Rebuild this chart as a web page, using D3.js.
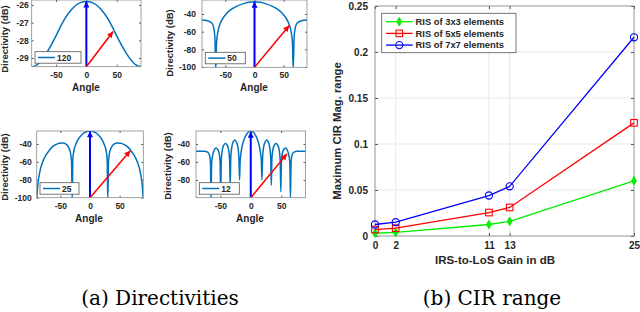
<!DOCTYPE html>
<html>
<head>
<meta charset="utf-8">
<script src="https://cdn.jsdelivr.net/npm/d3@7"></script>
<style>
body { margin: 0; background: #fff; }
svg { display: block; font-family: "Liberation Sans", Arial, sans-serif; }
.tick text { font-weight: bold; fill: #262626; }
.tick line { stroke: #555; }
</style>
</head>
<body>
<svg id="fig" width="640" height="312"></svg>
<script>
// directivity curves, angle in degrees and directivity in dB
var ang120 = [-90, -80, -70, -60, -50, -40, -30, -20, -10, 0, 10, 20, 30, 40, 50, 60, 70, 80, 90];
var dir120 = [-29.5, -29.35, -28.95, -28.4, -27.75, -27.05, -26.5, -26.1, -25.87, -25.8,
  -25.87, -26.1, -26.5, -27.05, -27.75, -28.4, -28.95, -29.35, -29.5];

var ang50 = [-90, -82, -76, -72, -69.5, -67.8, -66.4, -65, -63, -61, -58, -54, -48, -40, -30, -20, -10, 0,
  10, 20, 30, 40, 48, 54, 58, 61, 63, 65, 66.4, 67.8, 69.5, 72, 76, 82, 90];
var dir50 = [-46.8, -47.4, -48.8, -51.5, -57, -68, -102, -72, -61, -55, -49.5, -44.5, -39.5, -34.8, -31, -28.5, -26.8, -26,
  -26.8, -28.5, -31, -34.8, -39.5, -44.5, -49.5, -55, -61, -72, -102, -68, -57, -51.5, -48.8, -47.4, -46.8];

var ang25 = [-90, -88, -85, -80, -74, -68, -64, -58, -52, -46, -40, -36, -33, -31.2, -30, -29, -27, -24, -20, -15, -10, -5, 0,
  5, 10, 15, 20, 24, 27, 29, 30, 31.2, 33, 36, 40, 46, 52, 58, 64, 68, 74, 80, 85, 88, 90];
var dir25 = [-102, -85, -72, -60, -52, -46.5, -43.5, -40.8, -39.2, -39, -40.5, -44, -50, -60, -102, -57, -47, -40.5, -34.8, -30.5, -27.6, -26, -25.5,
  -26, -27.6, -30.5, -34.8, -40.5, -47, -57, -102, -60, -50, -44, -40.5, -39, -39.2, -40.8, -43.5, -46.5, -52, -60, -72, -85, -102];

var ang12 = [-90, -76, -71, -68, -66.3, -65.3, -64.2, -62, -59.5, -57, -54.5, -52, -50.4, -49.4, -48.4, -46.8, -44.2, -41.6, -39, -36.5, -34.8,
  -33.8, -32.8, -31, -28.5, -26, -23.5, -21, -19.5, -18.4, -17.5, -16, -14, -11, -8, -4, 0,
  4, 8, 11, 14, 16, 17.5, 18.4, 19.5, 21, 23.5, 26, 28.5, 31, 32.8, 33.8,
  34.8, 36.5, 39, 41.6, 44.2, 46.8, 48.4, 49.4, 50.4, 52, 54.5, 57, 59.5, 62, 64.2, 65.3, 66.3, 68, 71, 76, 90];
var dir12 = [-48, -48, -49, -52, -60, -100, -60, -50.5, -46, -44.5, -46, -50, -60, -93, -58, -47, -41, -39.6, -41, -46, -57,
  -86, -55, -43, -37, -35.5, -38, -44, -55, -80, -60, -50, -42, -35, -30.5, -26.7, -25.5,
  -26.7, -30.5, -35, -42, -50, -60, -80, -55, -44, -38, -35.5, -37, -43, -55, -86,
  -57, -46, -41, -39.6, -41, -47, -58, -93, -60, -50, -46, -44.5, -46, -50.5, -60, -100, -60, -52, -49, -48, -48];

var legendNames = ["120", "50", "25", "12"];
// blue arrow up to the main lobe, red arrow to the steered direction
var peakDir = [-25.8, -26.1, -25.7, -26.5];
var steerAng = [44, 59.5, 68, 59.5];
var steerDir = [-27.5, -53, -47.5, -51];

// CIR range chart
var gains = [0, 2, 11, 13, 25];
var ris3 = [0.003, 0.004, 0.0125, 0.016, 0.060];
var ris5 = [0.007, 0.0085, 0.0255, 0.031, 0.123];
var ris7 = [0.0125, 0.015, 0.044, 0.054, 0.216];
var risNames = ["RIS of 3x3 elements", "RIS of 5x5 elements", "RIS of 7x7 elements"];
var yTicksCir = [0, 0.05, 0.1, 0.15, 0.2, 0.25];

var svg = d3.select("#fig");

var defs = svg.append("defs");
function arrowMarker(id, color, w, l) {
  defs.append("marker")
    .attr("id", id)
    .attr("markerUnits", "userSpaceOnUse")
    .attr("viewBox", "0 0 10 10")
    .attr("refX", 10).attr("refY", 5)
    .attr("markerWidth", l).attr("markerHeight", w)
    .attr("orient", "auto")
    .append("path")
    .attr("d", "M0,0 L10,5 L0,10 Z")
    .attr("fill", color);
}
arrowMarker("headBlue", "#0000ff", 6, 8);
arrowMarker("headRed", "#ff0000", 6, 7);

// plain hyphen for negative tick labels, like the original figure
var plainFmt = function(d) { return String(d); };

// the four small directivity panels
var panels = [
  { ang: ang120, dir: dir120, x0: 31.7, x1: 141, y0: 0, y1: 66.7, lo: -29.49, hi: -25.72,
    yt: [-29, -28, -27, -26], pad: 3, ylx: 5, yly: 39, xlx: 86, xly: 91, leg: 46 },
  { ang: ang50, dir: dir50, x0: 202, x1: 307, y0: 0, y1: 67.3, lo: -100.3, hi: -24.15,
    yt: [-100, -80, -60, -40], pad: 6, ylx: 170, yly: 43, xlx: 254, xly: 91, leg: 40 },
  { ang: ang25, dir: dir25, x0: 36.7, x1: 143.3, y0: 131, y1: 197.7, lo: -100, hi: -25.5,
    yt: [-100, -80, -60, -40], pad: 5, ylx: 5, yly: 167, xlx: 89, xly: 222, leg: 39 },
  { ang: ang12, dir: dir12, x0: 196, x1: 305.5, y0: 131, y1: 197.7, lo: -99.7, hi: -25.6,
    yt: [-80, -60, -40], pad: 6, ylx: 168, yly: 166, xlx: 250, xly: 222, leg: 40 }
];

panels.forEach(function(p, i) {
  var x = d3.scaleLinear().domain([-90, 90]).range([p.x0, p.x1]);
  var y = d3.scaleLinear().domain([p.lo, p.hi]).range([p.y1, p.y0]);
  var g = svg.append("g");

  defs.append("clipPath").attr("id", "clip" + i)
    .append("rect")
    .attr("x", p.x0).attr("y", p.y0)
    .attr("width", p.x1 - p.x0).attr("height", p.y1 - p.y0);

  // axes with inward ticks
  var xb = d3.axisBottom(x).tickValues([-50, 0, 50]).tickFormat(plainFmt)
    .tickSizeInner(-2).tickSizeOuter(0).tickPadding(5);
  var yl = d3.axisLeft(y).tickValues(p.yt).tickFormat(plainFmt)
    .tickSizeInner(-2).tickSizeOuter(0).tickPadding(p.pad);
  g.append("g").attr("transform", "translate(0," + p.y1 + ")").call(xb)
    .call(function(a) { a.select(".domain").remove(); a.selectAll("text").attr("font-size", 8.5); });
  g.append("g").attr("transform", "translate(" + p.x0 + ",0)").call(yl)
    .call(function(a) { a.select(".domain").remove(); a.selectAll("text").attr("font-size", 8.5); });
  g.append("g").attr("transform", "translate(0," + p.y0 + ")")
    .call(d3.axisTop(x).tickValues([-50, 0, 50]).tickSizeInner(-2).tickSizeOuter(0).tickFormat(""))
    .select(".domain").remove();
  g.append("g").attr("transform", "translate(" + p.x1 + ",0)")
    .call(d3.axisRight(y).tickValues(p.yt).tickSizeInner(-2).tickSizeOuter(0).tickFormat(""))
    .select(".domain").remove();

  var line = d3.line()
    .x(function(d) { return x(d[0]); })
    .y(function(d) { return y(d[1]); })
    .curve(d3.curveMonotoneX);

  g.append("path")
    .datum(d3.zip(p.ang, p.dir))
    .attr("clip-path", "url(#clip" + i + ")")
    .attr("fill", "none")
    .attr("stroke", "#0072bd")
    .attr("stroke-width", 1.5)
    .attr("d", line);

  // arrows from the origin at the bottom
  g.append("line")
    .attr("x1", x(0)).attr("y1", p.y1)
    .attr("x2", x(0)).attr("y2", y(peakDir[i]))
    .attr("stroke", "#0000ff").attr("stroke-width", 2)
    .attr("marker-end", "url(#headBlue)");
  g.append("line")
    .attr("x1", x(0)).attr("y1", p.y1)
    .attr("x2", x(steerAng[i])).attr("y2", y(steerDir[i]))
    .attr("stroke", "#ff0000").attr("stroke-width", 1.5)
    .attr("marker-end", "url(#headRed)");

  g.append("rect")
    .attr("x", p.x0).attr("y", p.y0)
    .attr("width", p.x1 - p.x0).attr("height", p.y1 - p.y0)
    .attr("fill", "none").attr("stroke", "#8a8a8a").attr("stroke-width", 0.8);

  // legend
  var lx = p.x0 + 3.3, ly = p.y1 - 15;
  g.append("rect")
    .attr("x", lx).attr("y", ly)
    .attr("width", p.leg).attr("height", 11.5)
    .attr("fill", "#fff").attr("stroke", "#555").attr("stroke-width", 0.8);
  g.append("line")
    .attr("x1", lx + 3).attr("x2", lx + 20)
    .attr("y1", ly + 5.8).attr("y2", ly + 5.8)
    .attr("stroke", "#0072bd").attr("stroke-width", 1.5);
  g.append("text")
    .attr("x", lx + 22).attr("y", ly + 8.8)
    .attr("font-size", 8.5).attr("font-weight", "bold").attr("fill", "#262626")
    .text(legendNames[i]);

  g.append("text")
    .attr("x", p.xlx).attr("y", p.xly)
    .attr("text-anchor", "middle")
    .attr("font-size", 10).attr("font-weight", "bold").attr("fill", "#262626")
    .text("Angle");
  g.append("text")
    .attr("transform", "translate(" + p.ylx + "," + p.yly + ") rotate(-90)")
    .attr("text-anchor", "middle").attr("dy", "0.35em")
    .attr("font-size", 9.5).attr("font-weight", "bold").attr("fill", "#262626")
    .text("Directivity (dB)");
});

// CIR range chart
var cx0 = 375, cx1 = 634, cy0 = 6, cy1 = 236;
var xScale = d3.scaleLinear().domain([0, 25]).range([cx0, cx1]);
var yScale = d3.scaleLinear().domain([0, 0.25]).range([cy1, cy0]);
var cir = svg.append("g");

// grid
cir.selectAll(".vgrid").data(gains).enter().append("line")
  .attr("x1", function(d) { return xScale(d); }).attr("x2", function(d) { return xScale(d); })
  .attr("y1", cy0).attr("y2", cy1)
  .attr("stroke", "#e3e3e3").attr("stroke-width", 0.8);
cir.selectAll(".hgrid").data(yTicksCir).enter().append("line")
  .attr("x1", cx0).attr("x2", cx1)
  .attr("y1", function(d) { return yScale(d); }).attr("y2", function(d) { return yScale(d); })
  .attr("stroke", "#e3e3e3").attr("stroke-width", 0.8);

var xAxis = d3.axisBottom(xScale).tickValues(gains).tickSizeInner(-3).tickSizeOuter(0).tickPadding(6);
cir.append("g").attr("transform", "translate(0," + cy1 + ")").call(xAxis)
  .call(function(a) { a.select(".domain").remove(); a.selectAll("text").attr("font-size", 10); });
var yAxis = d3.axisLeft(yScale).tickValues(yTicksCir).tickSizeInner(-3).tickSizeOuter(0).tickPadding(7)
  .tickFormat(function(d) { return d === 0 ? "0" : String(+d.toFixed(2)); });
cir.append("g").attr("transform", "translate(" + cx0 + ",0)").call(yAxis)
  .call(function(a) { a.select(".domain").remove(); a.selectAll("text").attr("font-size", 10); });
cir.append("g").attr("transform", "translate(0," + cy0 + ")")
  .call(d3.axisTop(xScale).tickValues(gains).tickSizeInner(-3).tickSizeOuter(0).tickFormat(""))
  .select(".domain").remove();
cir.append("g").attr("transform", "translate(" + cx1 + ",0)")
  .call(d3.axisRight(yScale).tickValues(yTicksCir).tickSizeInner(-3).tickSizeOuter(0).tickFormat(""))
  .select(".domain").remove();

cir.append("rect")
  .attr("x", cx0).attr("y", cy0).attr("width", cx1 - cx0).attr("height", cy1 - cy0)
  .attr("fill", "none").attr("stroke", "#8a8a8a").attr("stroke-width", 0.8);

var series = [
  { vals: ris3, color: "#00ee00", marker: "star" },
  { vals: ris5, color: "#ff0000", marker: "square" },
  { vals: ris7, color: "#0000ff", marker: "circle" }
];

function drawMarker(sel, kind, color) {
  if (kind === "star") {
    sel.append("path")
      .attr("d", d3.symbol().type(d3.symbolDiamond).size(22))
      .attr("fill", color).attr("stroke", color).attr("stroke-width", 0.8);
  } else if (kind === "square") {
    sel.append("rect")
      .attr("x", -3.3).attr("y", -3.3).attr("width", 6.6).attr("height", 6.6)
      .attr("fill", "none").attr("stroke", color).attr("stroke-width", 1.1);
  } else {
    sel.append("circle").attr("r", 3.6)
      .attr("fill", "none").attr("stroke", color).attr("stroke-width", 1.1);
  }
}

var cirLine = d3.line()
  .x(function(d) { return xScale(d[0]); })
  .y(function(d) { return yScale(d[1]); });

series.forEach(function(s) {
  var pts = d3.zip(gains, s.vals);
  cir.append("path").datum(pts)
    .attr("fill", "none").attr("stroke", s.color).attr("stroke-width", 1.3)
    .attr("d", cirLine);
  cir.selectAll(null).data(pts).enter().append("g")
    .attr("transform", function(d) { return "translate(" + xScale(d[0]) + "," + yScale(d[1]) + ")"; })
    .each(function() { drawMarker(d3.select(this), s.marker, s.color); });
});

// legend
var leg = cir.append("g");
leg.append("rect")
  .attr("x", 381.7).attr("y", 13.3).attr("width", 134.3).attr("height", 39.4)
  .attr("fill", "#fff").attr("stroke", "#555").attr("stroke-width", 0.8);
series.forEach(function(s, i) {
  var yy = 21.7 + i * 11.7;
  leg.append("line")
    .attr("x1", 386).attr("x2", 412.7).attr("y1", yy).attr("y2", yy)
    .attr("stroke", s.color).attr("stroke-width", 1.3);
  drawMarker(leg.append("g").attr("transform", "translate(399.3," + yy + ")"), s.marker, s.color);
  leg.append("text")
    .attr("x", 415.5).attr("y", yy).attr("dy", "0.35em")
    .attr("font-size", 9.4).attr("font-weight", "bold").attr("fill", "#262626")
    .text(risNames[i]);
});

cir.append("text")
  .attr("x", 495).attr("y", 263.5)
  .attr("text-anchor", "middle")
  .attr("font-size", 11.5).attr("font-weight", "bold").attr("fill", "#262626")
  .text("IRS-to-LoS Gain in dB");
cir.append("text")
  .attr("transform", "translate(337,131) rotate(-90)")
  .attr("text-anchor", "middle").attr("dy", "0.35em")
  .attr("font-size", 11.3).attr("font-weight", "bold").attr("fill", "#262626")
  .text("Maximum CIR Mag. range");

// sub-figure captions
svg.append("text")
  .attr("x", 160).attr("y", 305)
  .attr("text-anchor", "middle")
  .attr("font-family", "'DejaVu Serif', serif").attr("font-size", 20)
  .text("(a) Directivities");
svg.append("text")
  .attr("x", 492).attr("y", 305)
  .attr("text-anchor", "middle")
  .attr("font-family", "'DejaVu Serif', serif").attr("font-size", 20)
  .text("(b) CIR range");
</script>
</body>
</html>
